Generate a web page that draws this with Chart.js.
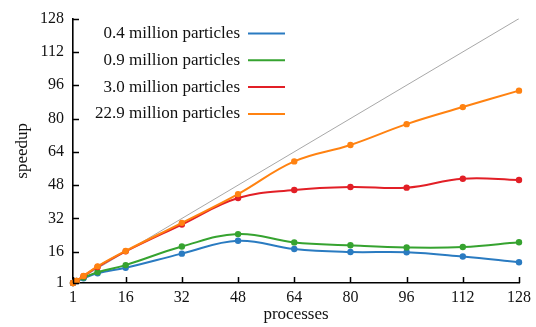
<!DOCTYPE html>
<html>
<head>
<meta charset="utf-8">
<script src="https://cdn.jsdelivr.net/npm/chart.js@4/dist/chart.umd.min.js"></script>
<style>
  html, body { margin: 0; padding: 0; background: #fff; }
  #wrap { width: 536px; height: 327px; }
</style>
</head>
<body>
<div id="wrap"><canvas id="chartSpeedup"></canvas></div>
<script>
  // processes on x, speedup on y
  const processes = [1, 2, 4, 8, 16, 32, 48, 64, 80, 96, 112, 128];
  const speedup04 = [1, 1.9, 3.3, 5.7, 8.3, 15.1, 21.3, 17.3, 15.9, 15.8, 13.7, 11.0];
  const speedup09 = [1, 2.0, 3.6, 6.2, 9.6, 18.5, 24.5, 20.5, 19.1, 18.1, 18.3, 20.6];
  const speedup30 = [1, 2.0, 4.3, 8.7, 16.2, 29.1, 41.8, 45.7, 47.1, 46.8, 51.1, 50.5];
  const speedup229 = [1, 2.0, 4.4, 9.0, 16.4, 29.9, 43.7, 59.4, 67.3, 77.3, 85.5, 93.4];
  const idealX = [1, 128];
  const idealY = [1, 128];
  const xTicks = [1, 16, 32, 48, 64, 80, 96, 112, 128];
  const yTicks = [1, 16, 32, 48, 64, 80, 96, 112, 128];
  const seriesLabels = [
    "0.4 million particles",
    "0.9 million particles",
    "3.0 million particles",
    "22.9 million particles",
  ];

  const colors = ["#2a7bc1", "#36a330", "#e21f26", "#ff8211"];
  const serif = "'Liberation Serif', 'DejaVu Serif', serif";

  function pts(xs, ys) {
    return xs.map((x, i) => ({ x: x, y: ys[i] }));
  }

  function series(label, ys, color, order) {
    return {
      label: label,
      data: pts(processes, ys),
      borderColor: color,
      backgroundColor: color,
      borderWidth: 2,
      pointRadius: 3.2,
      pointBorderWidth: 0,
      tension: 0.4,
      clip: false,
      order: order,
    };
  }

  // legend: text right-aligned, line sample after it
  const rightLegend = {
    id: "rightLegend",
    afterDraw(chart) {
      const ctx = chart.ctx;
      const textRight = 240;
      const lineX0 = 248;
      const lineX1 = 285;
      const y0 = 33.5;
      const step = 26.8;
      ctx.save();
      ctx.font = "17px " + serif;
      ctx.textAlign = "right";
      ctx.textBaseline = "middle";
      seriesLabels.forEach((lbl, i) => {
        const y = y0 + i * step;
        ctx.fillStyle = "#111";
        ctx.fillText(lbl, textRight, y);
        ctx.strokeStyle = colors[i];
        ctx.lineWidth = 2;
        ctx.beginPath();
        ctx.moveTo(lineX0, y);
        ctx.lineTo(lineX1, y);
        ctx.stroke();
      });
      ctx.restore();
    },
  };

  // inward tick marks
  const innerTicks = {
    id: "innerTicks",
    afterDatasetsDraw(chart) {
      const ctx = chart.ctx;
      const xs = chart.scales.x;
      const ys = chart.scales.y;
      const len = 6;
      ctx.save();
      ctx.strokeStyle = "#000";
      ctx.lineWidth = 1.5;
      ctx.beginPath();
      xs.ticks.forEach((t) => {
        const px = Math.round(xs.getPixelForValue(t.value)) + 0.5;
        ctx.moveTo(px, ys.bottom);
        ctx.lineTo(px, ys.bottom - len);
      });
      ys.ticks.forEach((t) => {
        const py = Math.round(ys.getPixelForValue(t.value)) + 0.5;
        ctx.moveTo(xs.left, py);
        ctx.lineTo(xs.left + len, py);
      });
      ctx.stroke();
      ctx.restore();
    },
  };

  new Chart(document.getElementById("chartSpeedup"), {
    type: "line",
    data: {
      datasets: [
        series(seriesLabels[0], speedup04, colors[0], 3),
        series(seriesLabels[1], speedup09, colors[1], 2),
        series(seriesLabels[2], speedup30, colors[2], 1),
        series(seriesLabels[3], speedup229, colors[3], 0),
        {
          label: "ideal",
          data: pts(idealX, idealY),
          borderColor: "#a8a8a8",
          borderWidth: 1,
          pointRadius: 0,
          tension: 0,
          order: 10,
        },
      ],
    },
    options: {
      responsive: true,
      maintainAspectRatio: false,
      animation: false,
      layout: { padding: { top: 16, right: 17, left: 0, bottom: 0 } },
      plugins: { legend: { display: false }, tooltip: { enabled: false } },
      scales: {
        x: {
          type: "linear",
          min: 1,
          max: 128,
          afterBuildTicks: (s) => { s.ticks = xTicks.map((v) => ({ value: v })); },
          afterFit: (s) => { s.height = 44; },
          grid: { display: false, drawTicks: false },
          border: { display: true, color: "#000", width: 1.6 },
          ticks: {
            color: "#111",
            padding: 5,
            maxRotation: 0,
            autoSkip: false,
            font: { family: serif, size: 16 },
          },
          title: {
            display: true,
            text: "processes",
            color: "#111",
            font: { family: serif, size: 17 },
            padding: { top: 0, bottom: 2 },
          },
        },
        y: {
          type: "linear",
          min: 1,
          max: 128,
          afterBuildTicks: (s) => { s.ticks = yTicks.map((v) => ({ value: v })); },
          afterFit: (s) => { s.width = 73; },
          grid: { display: false, drawTicks: false },
          border: { display: true, color: "#000", width: 1.6 },
          ticks: {
            color: "#111",
            padding: 9,
            autoSkip: false,
            font: { family: serif, size: 16 },
          },
          title: {
            display: true,
            text: "speedup",
            color: "#111",
            font: { family: serif, size: 17 },
            padding: { top: 12, bottom: 0 },
          },
        },
      },
    },
    plugins: [rightLegend, innerTicks],
  });
</script>
</body>
</html>
